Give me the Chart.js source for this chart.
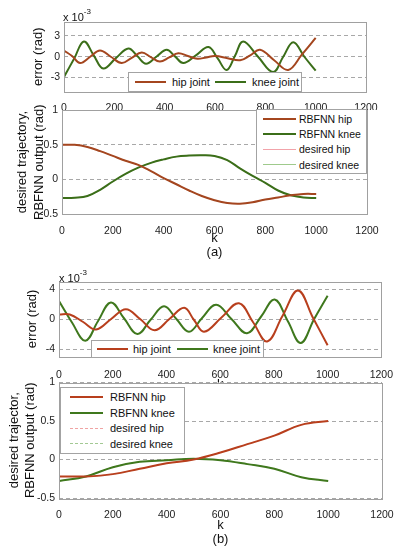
<!DOCTYPE html>
<html>
<head>
<meta charset="utf-8">
<script src="https://cdn.jsdelivr.net/npm/chart.js@4.4.0/dist/chart.umd.min.js"></script>
<style>
  body { margin: 0; background: #fff; width: 397px; height: 550px; position: relative; overflow: hidden;
         font-family: "Liberation Sans", Arial, sans-serif; color: #111; }
  canvas { position: absolute; left: 0; }
  .exp { position: absolute; font-size: 11px; line-height: 12px; }
  .exp sup { font-size: 8px; position: relative; top: -2px; }
  .leg { position: absolute; background: #fff; border: 1px solid #a3a3a3; box-sizing: border-box; white-space: nowrap; }
  .leg .item { display: flex; align-items: center; }
  .leg .sw { display: inline-block; height: 0; }
  .leg.h { display: flex; align-items: center; }
</style>
</head>
<body>
<canvas id="errA" width="397" height="110" style="top:0px"></canvas>
<canvas id="trajA" width="397" height="165" style="top:100px"></canvas>
<canvas id="errB" width="397" height="128" style="top:268px"></canvas>
<canvas id="trajB" width="397" height="180" style="top:370px"></canvas>

<div class="exp" style="left:63px;top:8px">x 10<sup>-3</sup></div>
<div class="exp" style="left:59px;top:269px">x 10<sup>-3</sup></div>

<div class="leg h" id="legErrA" style="left:128px;top:72px;width:174px;height:20px;font-size:11px;padding-left:6px"></div>
<div class="leg" id="legTrajA" style="left:256px;top:109px;width:111px;height:65px;font-size:10.5px;padding:1px 0 0 6px"></div>
<div class="leg h" id="legErrB" style="left:91px;top:340px;width:173px;height:17.5px;font-size:11px;padding-left:5px"></div>
<div class="leg" id="legTrajB" style="left:60px;top:387px;width:125px;height:67px;font-size:11px;padding:1px 0 0 9px"></div>

<script>
// (a) tracking error, units of 1e-3 rad
const hipErrKA = [0, 32, 64, 104, 143, 186, 229, 269, 309, 345, 381, 418, 454, 492, 530, 565, 600, 650, 700, 740, 779, 835, 891, 945, 1000];
const hipErrA = [0.9, 0.1, -0.9, 0, 0.9, 0, -0.9, -0.15, 0.6, -0.05, -0.7, -0.1, 0.5, 0.1, -0.3, -0.1, 0.1, -0.2, -0.5, 0.2, 1.0, -0.5, -1.9, 0.3, 2.7];
const kneeErrKA = [0, 40, 79, 118, 156, 206, 256, 291, 326, 367, 408, 441, 474, 524, 574, 610, 646, 679, 712, 771, 831, 871, 911, 955, 1000];
const kneeErrA = [-2.9, -0.3, 2.2, 0.2, -1.7, -0.2, 1.2, 0.1, -1.0, 0, 1.0, 0.05, -0.9, 0.2, 1.4, -0.2, -1.9, 0.1, 2.2, 0, -2.2, 0, 2.1, 0, -2.0];

// (a) desired trajectory / RBFNN output, rad
const trajKA = [0, 50, 100, 150, 200, 250, 300, 350, 400, 450, 500, 550, 600, 650, 700, 750, 800, 850, 900, 950, 1000];
const hipTrajA = [0.50, 0.50, 0.47, 0.41, 0.34, 0.27, 0.21, 0.12, 0.02, -0.07, -0.16, -0.24, -0.30, -0.34, -0.35, -0.33, -0.29, -0.26, -0.23, -0.21, -0.21];
const kneeTrajA = [-0.27, -0.265, -0.24, -0.15, -0.03, 0.08, 0.17, 0.24, 0.29, 0.33, 0.345, 0.35, 0.34, 0.28, 0.16, 0.05, -0.05, -0.16, -0.23, -0.26, -0.27];

// (b) tracking error, units of 1e-3 rad
const hipErrKB = [0, 40, 90, 138, 194, 249, 302, 356, 411, 466, 502, 540, 605, 670, 722, 775, 832, 890, 945, 1000];
const hipErrB = [0.6, 0.6, -0.4, -1.4, 0, 1.3, 0, -1.5, 0, 1.5, -0.1, -1.7, 0.2, 2.1, -0.4, -3.0, 0.4, 3.8, 0.2, -3.5];
const kneeErrKB = [0, 49, 98, 145, 193, 242, 292, 341, 391, 437, 484, 532, 585, 642, 700, 752, 803, 852, 900, 950, 1000];
const kneeErrB = [2.4, -0.5, -2.9, -0.3, 2.2, 0.1, -2.0, -0.1, 1.7, 0, -1.7, 0.1, 1.9, 0, -1.9, 0.3, 2.6, -0.3, -3.2, 0, 3.1];

// (b) desired trajectory / RBFNN output, rad
const trajKB = [0, 100, 200, 300, 400, 500, 600, 700, 800, 900, 1000];
const hipTrajB = [-0.22, -0.22, -0.19, -0.12, -0.05, 0.0, 0.09, 0.20, 0.31, 0.45, 0.50];
const kneeTrajB = [-0.28, -0.22, -0.10, -0.03, -0.01, 0.01, -0.01, -0.06, -0.12, -0.23, -0.28];

const errTicksA = [-3, 0, 3];
const errTicksB = [-4, 0, 4];
const trajTicks = [-0.5, 0, 0.5, 1];

Chart.defaults.font.family = '"Liberation Sans", Arial, sans-serif';

function pts(ks, vs) {
  return ks.map((k, i) => ({ x: k, y: vs[i] }));
}

function line(label, data, color, width, dash) {
  return {
    label: label, data: data, borderColor: color, backgroundColor: color,
    borderWidth: width, borderDash: dash || [], pointRadius: 0,
    tension: 0.4, fill: false
  };
}

// white plot area + gray box round it, like the matlab axes
const frame = {
  id: 'frame',
  beforeDraw(chart) {
    const a = chart.chartArea, ctx = chart.ctx;
    ctx.save();
    ctx.fillStyle = '#fff';
    ctx.fillRect(a.left, a.top, a.right - a.left, a.bottom - a.top);
    ctx.restore();
  },
  afterDraw(chart) {
    const a = chart.chartArea, ctx = chart.ctx;
    ctx.save();
    ctx.strokeStyle = '#a0a0a0';
    ctx.lineWidth = 1;
    ctx.strokeRect(Math.round(a.left) + 0.5, Math.round(a.top) + 0.5,
      Math.round(a.right - a.left), Math.round(a.bottom - a.top));
    ctx.restore();
  }
};

function makeChart(id, datasets, o) {
  return new Chart(document.getElementById(id), {
    type: 'line',
    data: { datasets: datasets },
    options: {
      responsive: false,
      animation: false,
      events: [],
      layout: { padding: { left: 0, top: o.top, right: o.right, bottom: 0 } },
      plugins: { legend: { display: false }, tooltip: { enabled: false } },
      scales: {
        x: {
          type: 'linear', min: 0, max: 1200,
          afterFit: s => { s.height = o.xh; },
          border: { display: false },
          grid: { display: false },
          ticks: { stepSize: 200, padding: o.xpad, color: '#222', font: { size: 10.5 }, maxRotation: 0,
                   callback: v => String(v) },
          title: o.xTitle ? { display: true, text: o.xTitle, color: '#111',
                              font: { size: 13, lineHeight: '14px' }, padding: { top: 0, bottom: o.xtpad } }
                          : { display: false }
        },
        y: {
          min: o.ymin, max: o.ymax,
          afterFit: s => { s.width = o.yw; },
          afterBuildTicks: s => { s.ticks = o.yticks.map(v => ({ value: v })); },
          border: { display: false, dash: [4, 3] },
          grid: { color: '#a8a8a8', drawTicks: false, lineWidth: 1 },
          ticks: { padding: 4, color: '#222', font: { size: 10.5 }, callback: v => String(v) },
          title: { display: true, text: o.yTitle, color: '#111',
                   font: { size: 13, lineHeight: o.ylh }, padding: { top: o.ytpad, bottom: 0 } }
        }
      }
    },
    plugins: [frame]
  });
}

function htmlLegend(boxId, chart, sw) {
  const box = document.getElementById(boxId);
  chart.data.datasets.forEach(ds => {
    const item = document.createElement('span');
    item.className = 'item';
    if (sw.rowH) item.style.height = sw.rowH + 'px';
    const s = document.createElement('span');
    s.className = 'sw';
    s.style.width = sw.w + 'px';
    s.style.marginRight = sw.gap + 'px';
    s.style.borderTop = ds.borderWidth + 'px ' + (ds.borderDash.length ? 'dashed ' : 'solid ') + ds.borderColor;
    const t = document.createElement('span');
    t.textContent = ds.label;
    if (sw.after) t.style.marginRight = sw.after + 'px';
    item.appendChild(s);
    item.appendChild(t);
    box.appendChild(item);
  });
}

const hipA = '#a4461f', kneeA = '#3b6e19';
const hipB = '#b83f1d', kneeB = '#3f781d';

const cErrA = makeChart('errA', [
  line('hip joint', pts(hipErrKA, hipErrA), hipA, 2),
  line('knee joint', pts(kneeErrKA, kneeErrA), kneeA, 2)
], { top: 22, right: 31, xh: 18.5, yw: 64, ymin: -5, ymax: 5, yticks: errTicksA,
     xpad: 2.5, yTitle: 'error (rad)', ylh: '15.6px', ytpad: 31 });

const cTrajA = makeChart('trajA', [
  line('RBFNN hip', pts(trajKA, hipTrajA), hipA, 2),
  line('RBFNN knee', pts(trajKA, kneeTrajA), kneeA, 2),
  line('desired hip', pts(trajKA, hipTrajA), '#f2a3aa', 1),
  line('desired knee', pts(trajKA, kneeTrajA), '#9fca8c', 1)
], { top: 9, right: 30, xh: 51, yw: 62, ymin: -0.5, ymax: 1, yticks: trajTicks,
     xpad: 3, xTitle: ['k', '(a)'], xtpad: 5.5,
     yTitle: ['desired trajectory,', 'RBFNN output (rad)'], ylh: '17px', ytpad: 13.5 });

const cErrB = makeChart('errB', [
  line('hip joint', pts(hipErrKB, hipErrB), hipB, 2),
  line('knee joint', pts(kneeErrKB, kneeErrB), kneeB, 2)
], { top: 13.5, right: 15, xh: 39.5, yw: 59, ymin: -5, ymax: 5, yticks: errTicksB,
     xpad: 4, xTitle: 'k', xtpad: 5, yTitle: 'error (rad)', ylh: '15.6px', ytpad: 25 });

const cTrajB = makeChart('trajB', [
  line('RBFNN hip', pts(trajKB, hipTrajB), hipB, 2),
  line('RBFNN knee', pts(trajKB, kneeTrajB), kneeB, 2),
  line('desired hip', pts(trajKB, hipTrajB), '#f0a3a3', 1, [4, 3]),
  line('desired knee', pts(trajKB, kneeTrajB), '#a3c993', 1, [4, 3])
], { top: 12.5, right: 15, xh: 52, yw: 59, ymin: -0.5, ymax: 1, yticks: trajTicks,
     xpad: 3, xTitle: ['k', '(b)'], xtpad: 4,
     yTitle: ['desired trajector,', 'RBFNN output (rad)'], ylh: '16px', ytpad: 6 });

htmlLegend('legErrA', cErrA, { w: 31, gap: 6, after: 5 });
htmlLegend('legTrajA', cTrajA, { w: 33, gap: 3, rowH: 15.4 });
htmlLegend('legErrB', cErrB, { w: 31, gap: 5, after: 6 });
htmlLegend('legTrajB', cTrajB, { w: 33, gap: 7, rowH: 15.7 });
</script>
</body>
</html>
